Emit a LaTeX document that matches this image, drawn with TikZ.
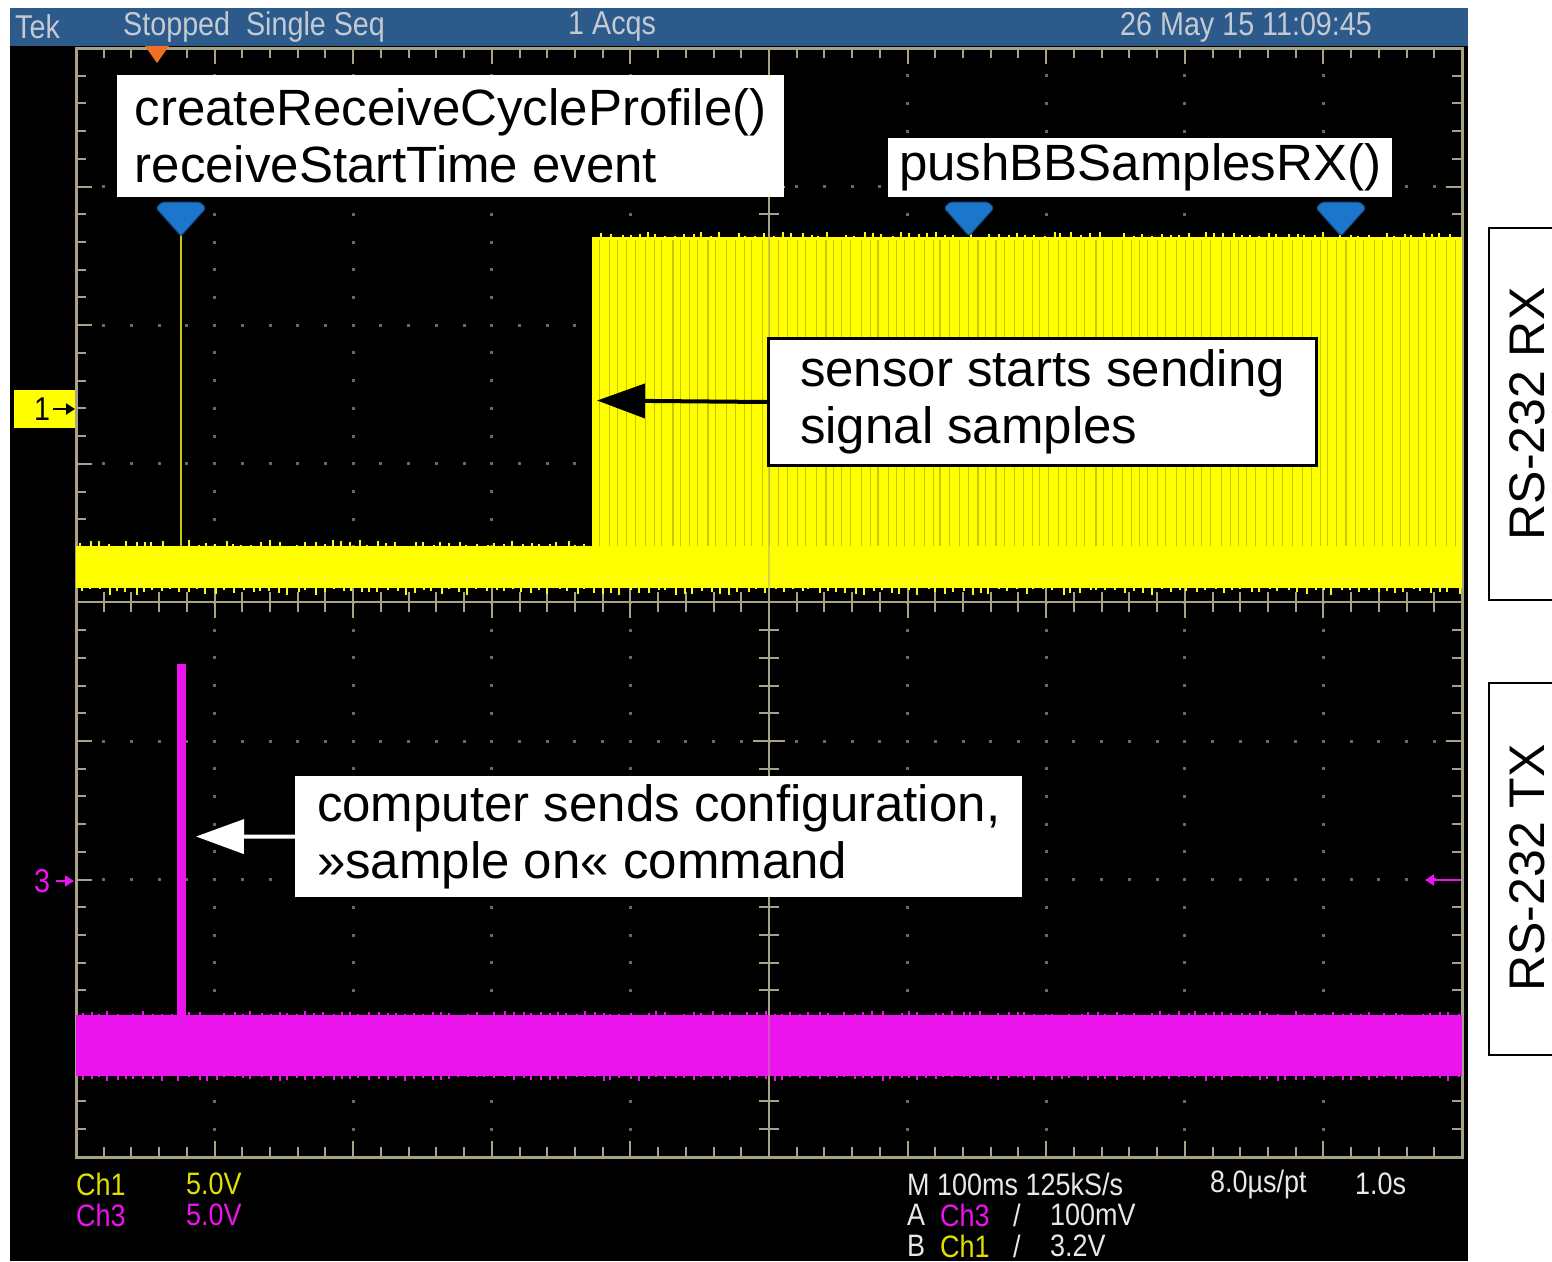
\documentclass[tikz,border=0pt]{standalone}
\usepackage{fontspec}
\usepackage{xcolor}
\usepackage{tikz}
\usetikzlibrary{arrows.meta}

\newfontfamily\annofont{Liberation Sans}
\newfontfamily\scopefont[FakeStretch=0.87]{Liberation Sans}

\definecolor{headblue}{RGB}{44,90,138}
\definecolor{headtext}{RGB}{196,202,212}
\definecolor{gridtan}{RGB}{168,162,135}
\definecolor{griddot}{RGB}{105,105,95}
\definecolor{chone}{RGB}{255,255,0}
\definecolor{chonedark}{RGB}{200,200,0}
\definecolor{chthree}{RGB}{236,20,236}
\definecolor{markblue}{RGB}{28,118,204}
\definecolor{trigorange}{RGB}{242,112,34}
\definecolor{scopewhite}{RGB}{232,232,232}

\begin{document}
\begin{tikzpicture}[x=1pt,y=-1pt,
    gridline/.style={draw=gridtan,line width=2pt},
    annobox/.style={fill=white,anchor=north west,inner sep=0pt,align=left,
        font=\annofont\fontsize{51}{57}\selectfont},
    sidelabel/.style={rotate=90,inner sep=0pt,font=\annofont\fontsize{50}{60}\selectfont},
    scopetext/.style={anchor=west,inner sep=0pt,font=\scopefont\fontsize{33}{36}\selectfont},
    readout/.style={scopetext,font=\scopefont\fontsize{31}{34}\selectfont},
    callout/.style={line width=4pt,-{Triangle[length=48pt,width=34pt]}},
    tagarrow/.style={line width=2.5pt,-{Triangle[length=9pt,width=11pt]}}]
    \useasboundingbox (0,0) rectangle (1552,1261);
    \fill[white] (0,0) rectangle (1552,1261);

    \fill[black] (10,46) rectangle (1468,1261);
    \fill[headblue] (10,8) rectangle (1468,46);
    \node[scopetext,headtext] (tek) at (15,27) {Tek};
    \node[scopetext,headtext] (state) at (123,27) {Stopped\ \ Single Seq};
    \node[scopetext,headtext] (acqs) at (568,27) {1 Acqs};
    \node[scopetext,headtext] (stamp) at (1120,27) {26 May 15 11:09:45};

    % graticule
    \foreach \k in {1,2,3,4,6,7,8,9}
        \foreach \j in {1,...,39}
            \fill[griddot] ({76+138.6*\k-1.5},{48+27.72*\j-1.5}) rectangle ++(3,3);
    \foreach \m in {1,2,3,5,6,7}
        \foreach \i in {1,...,49}
            \fill[griddot] ({76+27.72*\i-1.5},{48+138.6*\m-1.5}) rectangle ++(3,3);
    \draw[gridline,line width=3pt] (76,48) rectangle (1462,1157);
    \draw[gridline] (76,602.4) -- (1462,602.4);
    \draw[gridline] (769,48) -- (769,1157);
    \foreach \i in {1,...,49} {
        \pgfmathsetmacro\tkx{76+27.72*\i}
        \pgfmathsetmacro\tklen{ifthenelse(mod(\i,5)==0,16,10)}
        \draw[gridline] (\tkx,48) -- ++(0,\tklen);
        \draw[gridline] (\tkx,1157) -- ++(0,-\tklen);
        \draw[gridline] (\tkx,602.4-\tklen) -- (\tkx,602.4+\tklen);
    }
    \foreach \j in {1,...,39} {
        \pgfmathsetmacro\tky{48+27.72*\j}
        \pgfmathsetmacro\tklen{ifthenelse(mod(\j,5)==0,16,10)}
        \draw[gridline] (76,\tky) -- ++(\tklen,0);
        \draw[gridline] (1462,\tky) -- ++(-\tklen,0);
        \draw[gridline] (769-\tklen,\tky) -- (769+\tklen,\tky);
    }

    % channel 1 trace
    \pgfmathsetseed{15}
    \fill[chone] (76,546) rectangle (592,588);
    \fill[chone] (592,237) rectangle (1462,588);
    \foreach \i in {0,...,95} {
        \pgfmathsetmacro\stx{598+9*\i+3*rnd}
        \draw[chonedark,line width=1.1pt] (\stx,240) -- (\stx,546);
    }
    \foreach \i in {0,...,153} {
        \pgfmathsetmacro\nsx{78+9*\i+4*rnd}
        \pgfmathsetmacro\nsh{7*rnd}
        \fill[chone] (\nsx,588) rectangle ++(2,\nsh);
    }
    \foreach \i in {0,...,56} {
        \pgfmathsetmacro\nsx{78+9*\i+4*rnd}
        \pgfmathsetmacro\nsh{6*rnd}
        \fill[chone] (\nsx,546) rectangle ++(2,-\nsh);
    }
    \foreach \i in {0,...,94} {
        \pgfmathsetmacro\nsx{600+9*\i+4*rnd}
        \pgfmathsetmacro\nsh{5*rnd}
        \fill[chone] (\nsx,237) rectangle ++(2,-\nsh);
    }
    \draw[chonedark,line width=2pt] (181,235) -- (181,546);

    % channel 3 trace
    \fill[chthree] (76,1015) rectangle (1462,1076);
    \fill[chthree] (177,664) rectangle (186,1015);
    \foreach \i in {0,...,153} {
        \pgfmathsetmacro\nsx{78+9*\i+4*rnd}
        \pgfmathsetmacro\nsh{5*rnd}
        \fill[chthree] (\nsx,1076) rectangle ++(2,\nsh);
        \pgfmathsetmacro\nsh{4*rnd}
        \fill[chthree] (\nsx,1015) rectangle ++(2,-\nsh);
    }
    \draw[gridtan,line width=2pt,opacity=0.45] (769,237) -- (769,588) (769,1015) -- (769,1076);

    % markers
    \fill[trigorange] (145,46) -- (169,46) -- (157,63) -- cycle;
    \foreach \mx in {181,969,1341}
        \filldraw[fill=markblue,draw=markblue!60!black,line width=1pt,rounded corners=2pt]
            (\mx-25,208) -- (\mx-19,202) -- (\mx+19,202) -- (\mx+25,208) -- (\mx,236) -- cycle;

    \node[fill=chone,minimum width=61pt,minimum height=38pt,inner sep=0pt] (chonetag) at (44.5,409) {};
    \node[scopetext,black] (chonenum) at (34,409) {1};
    \coordinate (chonelevel) at (75,409);
    \draw[tagarrow,black,shorten <=3pt] (chonenum.east) -- (chonelevel);
    \node[scopetext,chthree] (chthreenum) at (34,881) {3};
    \coordinate (chthreelevel) at (74,881);
    \draw[tagarrow,chthree,shorten <=6pt] (chthreenum.east) -- (chthreelevel);
    \coordinate (chthreeright) at (1461,880);
    \coordinate (chthreeleft) at (1425,880);
    \draw[tagarrow,chthree] (chthreeright) -- (chthreeleft);

    % annotations
    \node[annobox,minimum width=667pt,minimum height=122pt] (profile) at (117,75)
        {createReceiveCycleProfile()\\receiveStartTime event};
    \node[annobox,minimum width=504pt,minimum height=59pt] (push) at (888,138)
        {pushBBSamplesRX()};
    \node[annobox,draw=black,line width=3pt,minimum width=548pt,minimum height=127pt] (sensor) at (767,337)
        {sensor starts sending\\signal samples};
    \node[annobox,minimum width=727pt,minimum height=121pt] (command) at (295,776)
        {computer sends configuration,\\»sample on« command};
    \coordinate (rxedge) at (597,400.5);
    \coordinate (txspike) at (196,836.5);
    \draw[callout,black] (sensor.west) -- (rxedge);
    \draw[callout,white] (command.west) -- (txspike);

    \draw[black,line width=2.5pt] (1556,228) -- (1489,228) -- (1489,600) -- (1556,600);
    \node[sidelabel] (rxlabel) at (1527,414) {RS-232 RX};
    \draw[black,line width=2.5pt] (1556,683) -- (1489,683) -- (1489,1055) -- (1556,1055);
    \node[sidelabel] (txlabel) at (1527,868) {RS-232 TX};

    % readout
    \node[readout,chone!88!black] (chonename) at (76,1184) {Ch1};
    \node[readout,chone!88!black] (chonevolt) at (186,1184) {5.0V};
    \node[readout,chthree] (chthreename) at (76,1215) {Ch3};
    \node[readout,chthree] (chthreevolt) at (186,1215) {5.0V};
    \node[readout,scopewhite] (horiz) at (907,1184) {M 100ms 125kS/s};
    \node[readout,scopewhite] (reclen) at (1210,1184) {8.0µs/pt};
    \node[readout,scopewhite] (span) at (1355,1184) {1.0s};
    \node[readout,scopewhite] (trigA) at (907,1215) {A};
    \node[readout,chthree] (trigAsrc) at (940,1215) {Ch3};
    \node[readout,scopewhite] (trigAslope) at (1013,1215) {/};
    \node[readout,scopewhite] (trigAlevel) at (1050,1215) {100mV};
    \node[readout,scopewhite] (trigB) at (907,1246) {B};
    \node[readout,chone!88!black] (trigBsrc) at (940,1246) {Ch1};
    \node[readout,scopewhite] (trigBslope) at (1013,1246) {/};
    \node[readout,scopewhite] (trigBlevel) at (1050,1246) {3.2V};
\end{tikzpicture}
\end{document}
